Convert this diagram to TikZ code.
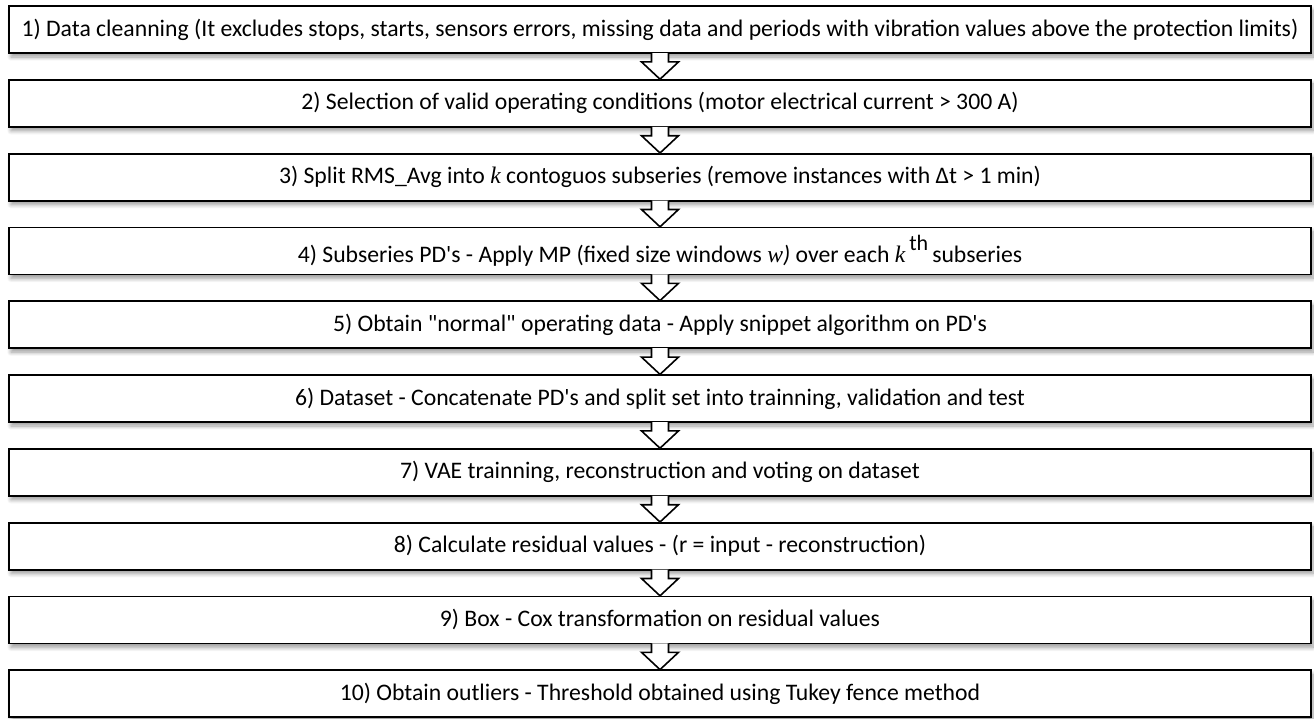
\documentclass[tikz,border=0pt]{standalone}
\usepackage{fontspec}
\setmainfont{Carlito}[Ligatures=TeXOff]
\newfontfamily\serifit{Liberation Serif}[Ligatures=TeXOff]
\usetikzlibrary{shadows.blur}
\begin{document}
\begin{tikzpicture}[x=1pt,y=1pt,
  stepbox/.style={draw=black, line width=1.8pt, fill=white,
    minimum width=1302pt, minimum height=47pt, inner sep=0pt,
    font=\fontsize{23.7}{26}\selectfont,
    blur shadow={shadow xshift=2pt, shadow yshift=-4pt, shadow blur steps=8, shadow blur radius=4pt, shadow opacity=40}},
  arrowfill/.style={fill=white, draw=none},
  arrowline/.style={draw=black, line width=1.6pt, line join=miter}
]
\useasboundingbox (0,0) rectangle (1314,-718);
\newcommand{\kit}{{\serifit\itshape k}}
\node[stepbox] (b1) at (660,-29.5) {1) Data cleanning (It excludes stops, starts, sensors errors, missing data and periods with vibration values above the protection limits)};
\node[stepbox] (b2) at (660,-103.3) {2) Selection of valid operating conditions (motor electrical current > 300 A)};
\node[stepbox] (b3) at (660,-177.1) {3) Split RMS\_Avg into \kit{} contoguos subseries (remove instances with Δt > 1 min)};
\node[stepbox] (b4) at (660,-250.9) {4) Subseries PD's - Apply MP (fixed size windows {\serifit\itshape w}\textit{)} over each \kit\,\raisebox{0.5em}{\fontsize{22}{22}\selectfont th}\,subseries};
\node[stepbox] (b5) at (660,-324.7) {5) Obtain "normal" operating data - Apply snippet algorithm on PD's};
\node[stepbox] (b6) at (660,-398.5) {6) Dataset - Concatenate PD's and split set into trainning, validation and test};
\node[stepbox] (b7) at (660,-472.3) {7) VAE trainning, reconstruction and voting on dataset};
\node[stepbox] (b8) at (660,-546.1) {8) Calculate residual values - (r = input - reconstruction)};
\node[stepbox] (b9) at (660,-619.9) {9) Box - Cox transformation on residual values};
\node[stepbox] (b10) at (660,-693.7) {10) Obtain outliers - Threshold obtained using Tukey fence method};
\foreach \a/\b in {b1/b2,b2/b3,b3/b4,b4/b5,b5/b6,b6/b7,b7/b8,b8/b9,b9/b10}{
  \fill[arrowfill] ([xshift=-8.5pt,yshift=0.9pt]\a.south) -- ++(0,-8.9pt) -- ++(-10pt,0) -- ([yshift=-0.9pt]\b.north) -- ([xshift=18.5pt,yshift=-8pt]\a.south) -- ++(-10pt,0) -- ++(0,8.9pt) -- cycle;
  \draw[arrowline] ([xshift=-8.5pt,yshift=0.9pt]\a.south) -- ++(0,-8.9pt) -- ++(-10pt,0) -- ([yshift=-0.3pt]\b.north) -- ([xshift=18.5pt,yshift=-8pt]\a.south) -- ++(-10pt,0) -- ++(0,8.9pt);
}
\end{tikzpicture}
\end{document}
